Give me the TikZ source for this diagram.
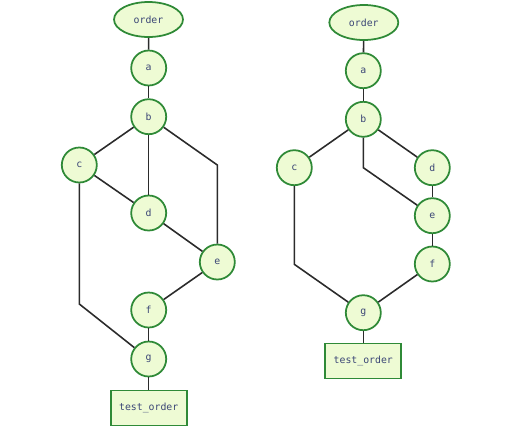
\documentclass[tikz,border=0pt]{standalone}
\usepackage{xcolor}
\usepackage{fontspec}
\setmonofont{DejaVu Sans Mono}
\usepackage{tikz}
\usetikzlibrary{shapes.geometric}
\definecolor{leaf}{HTML}{EEFBD4}
\definecolor{rim}{HTML}{2F8A37}
\definecolor{ink}{HTML}{3B4676}
\definecolor{wire}{HTML}{2B2B2B}
\tikzset{
  every node/.style={font=\ttfamily\fontsize{5.6}{7}\selectfont,text=ink},
  op/.style={circle,draw=rim,fill=leaf,line width=1pt,minimum size=0.7cm,inner sep=0pt},
  src/.style={ellipse,draw=rim,fill=leaf,line width=1pt,minimum width=1.38cm,minimum height=0.7cm,inner sep=0pt},
  sink/.style={rectangle,draw=rim,fill=leaf,line width=1pt,minimum width=1.52cm,minimum height=0.7cm,inner sep=0pt},
  edge/.style={draw=wire,line width=0.9pt},
}
\begin{document}
\begin{tikzpicture}[x=0.02cm,y=-0.02cm]
\useasboundingbox (0,0) rectangle (530,430);
% left graph
\node[src]  (o1) at (148.5,19.5) {order};
\node[op]   (a1) at (148.7,68)   {a};
\node[op]   (b1) at (148.7,116.7) {b};
\node[op]   (c1) at (79.3,165)   {c};
\node[op]   (d1) at (148.7,213)  {d};
\node[op]   (e1) at (217.3,262)  {e};
\node[op]   (f1) at (148.7,310)  {f};
\node[op]   (g1) at (148.7,359)  {g};
\node[sink] (t1) at (148.7,408)  {test\_order};
\coordinate (k1) at (217.3,165);
\coordinate (m1) at (79.3,304);
\draw[edge] (o1) -- (a1);
\draw[edge] (a1) -- (b1);
\draw[edge] (b1) -- (c1);
\draw[edge] (b1) -- (d1);
\draw[edge] (b1) -- (k1) -- (e1);
\draw[edge] (c1) -- (d1);
\draw[edge] (c1) -- (m1) -- (g1);
\draw[edge] (d1) -- (e1);
\draw[edge] (e1) -- (f1);
\draw[edge] (f1) -- (g1);
\draw[edge] (g1) -- (t1);

% right graph
\node[src]  (o2) at (363.8,22.5)  {order};
\node[op]   (a2) at (363.3,70.7)  {a};
\node[op]   (b2) at (363.3,119.3) {b};
\node[op]   (c2) at (294.3,167.7) {c};
\node[op]   (d2) at (432.3,167.7) {d};
\node[op]   (e2) at (432.3,215.7) {e};
\node[op]   (f2) at (432.3,264)   {f};
\node[op]   (g2) at (363.3,312.7) {g};
\node[sink] (t2) at (363.3,361)   {test\_order};
\coordinate (k2) at (363.3,167.7);
\coordinate (m2) at (294.3,264.3);
\draw[edge] (o2) -- (a2);
\draw[edge] (a2) -- (b2);
\draw[edge] (b2) -- (c2);
\draw[edge] (b2) -- (d2);
\draw[edge] (b2) -- (k2) -- (e2);
\draw[edge] (d2) -- (e2);
\draw[edge] (e2) -- (f2);
\draw[edge] (f2) -- (g2);
\draw[edge] (c2) -- (m2) -- (g2);
\draw[edge] (g2) -- (t2);
\end{tikzpicture}
\end{document}
